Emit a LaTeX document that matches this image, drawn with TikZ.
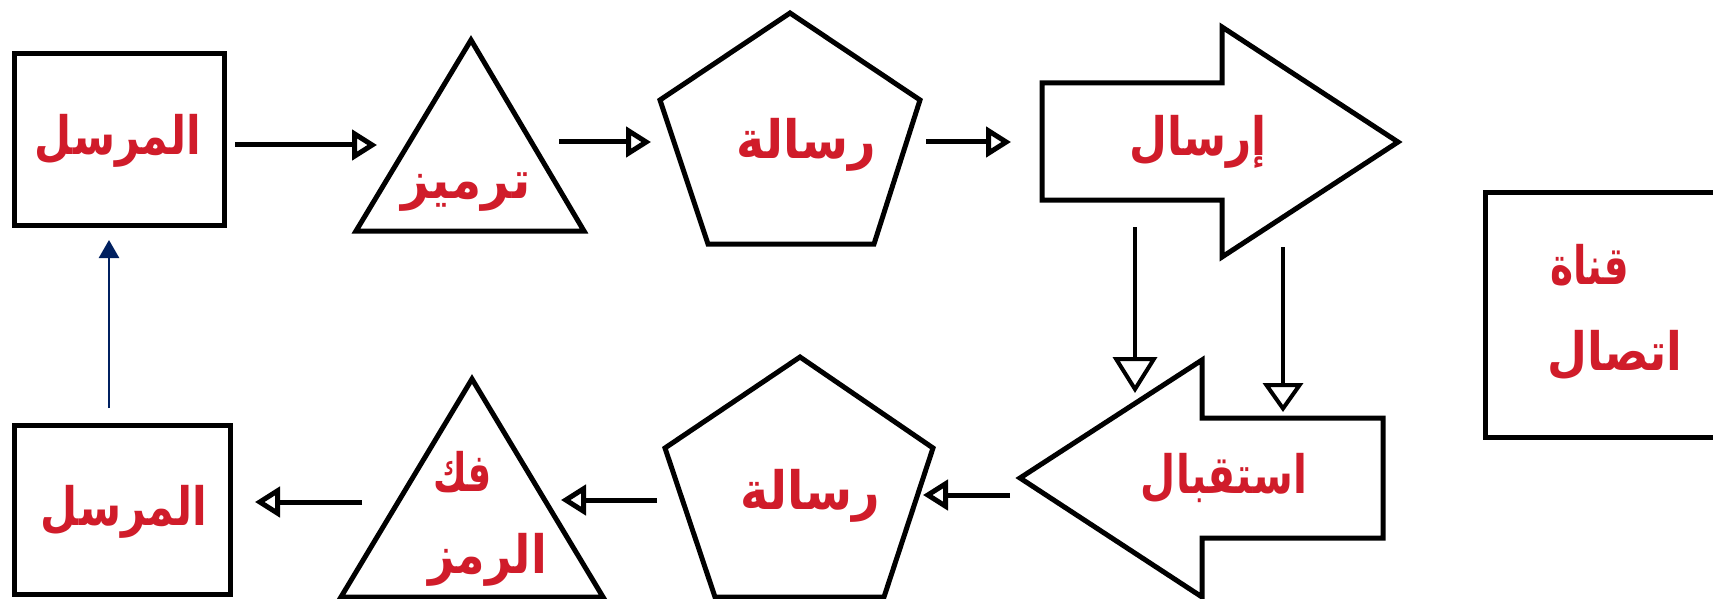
\documentclass[tikz,border=0pt]{standalone}
\usepackage{graphicx}
\usepackage{fontspec}
\newfontfamily\arabicfont[Script=Arabic]{DejaVu Sans}
\TeXXeTstate=1
\usetikzlibrary{arrows.meta}
\definecolor{labelred}{RGB}{208,28,42}
\definecolor{navyline}{RGB}{0,32,96}
% right-to-left label, slightly condensed and stretched upwards
\newcommand\lab[2][1]{\scalebox{#1}[1.15]{\beginR #2\endR}}
\tikzset{
  outline/.style={draw=black, line width=5pt, line join=miter, fill=white},
  lbl/.style={text=labelred, inner sep=0pt,
    font=\arabicfont\bfseries\fontsize{46}{52}\selectfont},
  conn/.style={draw=black, line width=5pt,
    -{Triangle[open, length=25pt, width=30pt]}},
  drop/.style={draw=black, line width=4pt,
    -{Triangle[open, length=36pt, width=44pt]}},
  dropsmall/.style={draw=black, line width=4pt,
    -{Triangle[open, length=29pt, width=40pt]}},
  back/.style={draw=navyline, line width=2.5pt,
    -{Triangle[length=18pt, width=20pt]}},
}
\begin{document}
\begin{tikzpicture}[x=1pt, y=-1pt]
\clip (0,0) rectangle (1713,599);
\fill[white] (0,0) rectangle (1713,599);

% ---- top row: sender, encoding, message, sending ----
\draw[outline] (14,54) rectangle (224,225);
\draw[outline] (471,40) -- (584,231) -- (356,231) -- cycle;
\draw[outline] (790,13) -- (920,100) -- (874,244) -- (708,244) -- (660,100) -- cycle;
\draw[outline] (1042,83) -- (1222,83) -- (1222,27) -- (1398,142)
  -- (1222,257) -- (1222,200) -- (1042,200) -- cycle;

% ---- channel box (runs off the right edge) ----
\draw[outline] (1760,192) -- (1485,192) -- (1485,437) -- (1760,437);

% ---- bottom row: receiving, message, decoding, receiver ----
\draw[outline] (1383,418) -- (1202,418) -- (1202,360) -- (1020,478)
  -- (1202,597) -- (1202,538) -- (1383,538) -- cycle;
\draw[outline] (800,357) -- (933,448) -- (884,597) -- (715,597) -- (665,448) -- cycle;
\draw[outline] (472,379) -- (603,597) -- (341,597) -- cycle;
\draw[outline] (14,425) rectangle (230,594);

% ---- labels ----
\node[lbl] (senderTop)  at (118,141) {\lab[0.93]{المرسل}};
\node[lbl] (encode)     at (466,192) {\lab[1.06]{ترميز}};
\node[lbl] (msgTop)     at (806,145) {\lab[1.04]{رسالة}};
\node[lbl] (send)       at (1198,142) {\lab[0.95]{إرسال}};
\node[lbl] (receive)    at (1224,478) {\lab[0.88]{استقبال}};
\node[lbl] (msgBottom)  at (810,496) {\lab[1.04]{رسالة}};
\node[lbl, anchor=west] (decodeA) at (433,472) {\lab[0.8]{فك}};
\node[lbl, anchor=west] (decodeB) at (428,560) {\lab{الرمز}};
\node[lbl] (senderBottom) at (124,512) {\lab[0.93]{المرسل}};
\node[lbl, anchor=west] (channelA) at (1550,265) {\lab[0.85]{قناة}};
\node[lbl, anchor=west] (channelB) at (1547,355) {\lab{اتصال}};

% ---- connector end points ----
\coordinate (senderOut)  at (235,145);
\coordinate (encodeIn)   at (377,145);
\coordinate (encodeOut)  at (559,142);
\coordinate (msgIn)      at (651,142);
\coordinate (msgOut)     at (926,142);
\coordinate (sendIn)     at (1011,142);
\coordinate (sendOutA)   at (1135,227);
\coordinate (recvInA)    at (1135,393);
\coordinate (sendOutB)   at (1283,247);
\coordinate (recvInB)    at (1283,412);
\coordinate (recvOut)    at (1010,495);
\coordinate (msgBIn)     at (923,495);
\coordinate (msgBOut)    at (657,500);
\coordinate (decodeIn)   at (561,500);
\coordinate (decodeOut)  at (362,502);
\coordinate (receiverIn) at (255,502);
\coordinate (feedbackOut) at (109,408);
\coordinate (feedbackIn)  at (109,240);

% ---- connectors ----
\draw[conn] (senderOut) -- (encodeIn);
\draw[conn] (encodeOut) -- (msgIn);
\draw[conn] (msgOut) -- (sendIn);
\draw[drop] (sendOutA) -- (recvInA);
\draw[dropsmall] (sendOutB) -- (recvInB);
\draw[conn] (recvOut) -- (msgBIn);
\draw[conn] (msgBOut) -- (decodeIn);
\draw[conn] (decodeOut) -- (receiverIn);
\draw[back] (feedbackOut) -- (feedbackIn);
\end{tikzpicture}
\end{document}
